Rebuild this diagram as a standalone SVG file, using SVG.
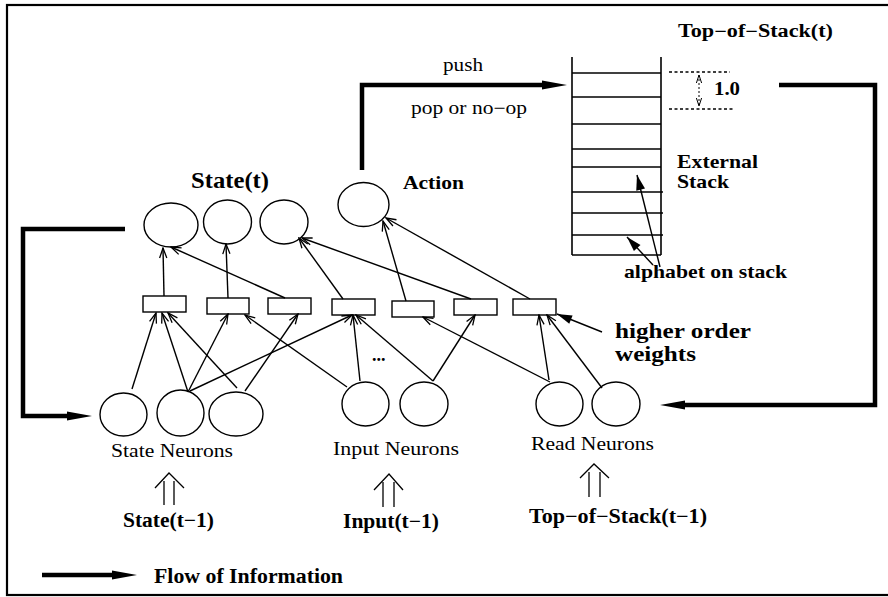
<svg xmlns="http://www.w3.org/2000/svg" width="888" height="597" viewBox="0 0 888 597">
<style>
.t{font-family:"Liberation Serif","Times New Roman",serif;fill:#000}
.b{font-weight:bold}
.n{fill:#fff;stroke:#000;stroke-width:1.4}
.thin{fill:none;stroke:#000;stroke-width:1.4;marker-end:url(#open)}
.fa{fill:none;stroke:#000;stroke-width:1.4;marker-end:url(#fill)}
.thick{fill:none;stroke:#000;stroke-width:4.5;stroke-linejoin:miter;marker-end:url(#big)}
.st{stroke:#000;stroke-width:1.6;fill:none}
.dot{stroke:#000;stroke-width:1.3;stroke-dasharray:3,2.5;fill:none}
</style>
<defs>
<marker id="open" viewBox="-11 -6 12 12" refX="0" refY="0" markerWidth="12" markerHeight="12" markerUnits="userSpaceOnUse" orient="auto">
<path d="M-10,-3.6 L0,0 L-10,3.6" fill="none" stroke="#000" stroke-width="1.3"/>
</marker>
<marker id="fill" viewBox="-16 -6 17 12" refX="0" refY="0" markerWidth="17" markerHeight="12" markerUnits="userSpaceOnUse" orient="auto">
<path d="M-15,-4.5 L0,0 L-15,4.5 Z" fill="#000"/>
</marker>
<marker id="big" viewBox="-1 -6 27 12" refX="0" refY="0" markerWidth="27" markerHeight="12" markerUnits="userSpaceOnUse" orient="auto">
<path d="M0,-4.5 L25,0 L0,4.5 Z" fill="#000"/>
</marker>
<marker id="sm" viewBox="-9 -4 10 8" refX="0" refY="0" markerWidth="10" markerHeight="8" markerUnits="userSpaceOnUse" orient="auto-start-reverse">
<path d="M-8,-2.6 L0,0 L-8,2.6" fill="none" stroke="#000" stroke-width="1"/>
</marker>
</defs>
<rect x="7" y="5" width="890" height="590" fill="#fff" stroke="#000" stroke-width="2.2"/>

<g id="stack">
<line class="st" x1="572" y1="57" x2="572" y2="255"/>
<line class="st" x1="661" y1="57" x2="661" y2="255"/>
<line class="st" x1="572" y1="73" x2="661" y2="73"/>
<line class="st" x1="572" y1="97" x2="661" y2="97"/>
<line class="st" x1="572" y1="124" x2="661" y2="124"/>
<line class="st" x1="572" y1="149" x2="661" y2="149"/>
<line class="st" x1="572" y1="167" x2="661" y2="167"/>
<line class="st" x1="572" y1="192" x2="663" y2="192"/>
<line class="st" x1="572" y1="213" x2="663" y2="213"/>
<line class="st" x1="572" y1="235" x2="663" y2="235"/>
<line class="st" x1="572" y1="255" x2="661" y2="255"/>
<line class="dot" x1="669" y1="72" x2="730" y2="72"/>
<line class="dot" x1="669" y1="109" x2="735" y2="109"/>
<line x1="699" y1="75" x2="699" y2="106" stroke="#000" stroke-width="1" stroke-dasharray="2,2" marker-start="url(#sm)" marker-end="url(#sm)"/>
<text class="t b" x="714" y="95" font-size="19" textLength="26" lengthAdjust="spacingAndGlyphs">1.0</text>
<text class="t b" x="678" y="37" font-size="18" textLength="155" lengthAdjust="spacingAndGlyphs">Top−of−Stack(t)</text>
<text class="t b" x="677" y="168" font-size="19" textLength="81" lengthAdjust="spacingAndGlyphs">External</text>
<text class="t b" x="677" y="188" font-size="19" textLength="52" lengthAdjust="spacingAndGlyphs">Stack</text>
<text class="t b" x="624" y="278" font-size="19" textLength="163" lengthAdjust="spacingAndGlyphs">alphabet on stack</text>
</g>

<g id="state-t">
<ellipse class="n" cx="171" cy="225" rx="27" ry="22"/>
<ellipse class="n" cx="227.5" cy="222" rx="24" ry="22"/>
<ellipse class="n" cx="284" cy="222" rx="24" ry="22"/>
<text class="t b" x="191" y="188" font-size="23" textLength="78" lengthAdjust="spacingAndGlyphs">State(t)</text>
</g>
<g id="action">
<ellipse class="n" cx="363.5" cy="204.5" rx="25.5" ry="22"/>
<text class="t b" x="403" y="189" font-size="19" textLength="61" lengthAdjust="spacingAndGlyphs">Action</text>
</g>

<g id="weights">
<rect class="n" x="143" y="296" width="43" height="16"/>
<rect class="n" x="207" y="298" width="42" height="16"/>
<rect class="n" x="268" y="298" width="43" height="16"/>
<rect class="n" x="332" y="299" width="43" height="16"/>
<rect class="n" x="392" y="301" width="42" height="16"/>
<rect class="n" x="454" y="299" width="43" height="16"/>
<rect class="n" x="513" y="299" width="43" height="16"/>
<text class="t b" x="615" y="338" font-size="20" textLength="136" lengthAdjust="spacingAndGlyphs">higher order</text>
<text class="t b" x="615" y="361" font-size="20" textLength="81" lengthAdjust="spacingAndGlyphs">weights</text>
<text class="t b" x="372" y="361" font-size="18">...</text>
</g>

<g id="state-neurons">
<ellipse class="n" cx="123.5" cy="414.5" rx="23.5" ry="21.5"/>
<ellipse class="n" cx="180.5" cy="413" rx="23.5" ry="23"/>
<ellipse class="n" cx="236" cy="414" rx="27" ry="22"/>
<text class="t" x="111" y="457" font-size="18.5" textLength="122" lengthAdjust="spacingAndGlyphs">State Neurons</text>
</g>
<g id="input-neurons">
<ellipse class="n" cx="365.5" cy="404" rx="23.5" ry="22"/>
<ellipse class="n" cx="424" cy="404" rx="24" ry="22"/>
<text class="t" x="333" y="455" font-size="18.5" textLength="126" lengthAdjust="spacingAndGlyphs">Input Neurons</text>
</g>
<g id="read-neurons">
<ellipse class="n" cx="559.5" cy="404" rx="23.5" ry="22"/>
<ellipse class="n" cx="616" cy="404" rx="24" ry="22"/>
<text class="t" x="531" y="450" font-size="18.5" textLength="123" lengthAdjust="spacingAndGlyphs">Read Neurons</text>
</g>

<g id="inputs">
<g fill="none" stroke="#000" stroke-width="1.3">
<line x1="164" y1="481" x2="164" y2="505"/><line x1="174" y1="481" x2="174" y2="505"/>
<polyline points="155,488 169,473 184,488"/>
<line x1="383" y1="482" x2="383" y2="507"/><line x1="394" y1="482" x2="394" y2="507"/>
<polyline points="374,490 389,474 403,490"/>
<line x1="589" y1="472" x2="589" y2="497"/><line x1="600" y1="472" x2="600" y2="497"/>
<polyline points="580,478 594,464 609,478"/>
</g>
<text class="t b" x="123" y="527" font-size="20" textLength="91" lengthAdjust="spacingAndGlyphs">State(t−1)</text>
<text class="t b" x="343" y="528" font-size="20" textLength="96" lengthAdjust="spacingAndGlyphs">Input(t−1)</text>
<text class="t b" x="529" y="523" font-size="20" textLength="178" lengthAdjust="spacingAndGlyphs">Top−of−Stack(t−1)</text>
</g>

<g id="connectors">
<line class="thin" x1="164" y1="296" x2="163" y2="248"/>
<line class="thin" x1="228" y1="298" x2="226" y2="244"/>
<line class="thin" x1="285" y1="298" x2="171" y2="247"/>
<line class="thin" x1="343" y1="299" x2="299" y2="238"/>
<line class="thin" x1="406" y1="301" x2="383" y2="221"/>
<line class="thin" x1="471" y1="299" x2="302" y2="238"/>
<line class="thin" x1="530" y1="299" x2="386" y2="218"/>

<line class="thin" x1="132" y1="389" x2="156" y2="313"/>
<line class="thin" x1="188" y1="392" x2="162" y2="313"/>
<line class="thin" x1="237" y1="388" x2="168" y2="313"/>
<line class="thin" x1="188" y1="392" x2="228" y2="314"/>
<line class="thin" x1="190" y1="391" x2="352" y2="315"/>
<line class="thin" x1="245" y1="391" x2="298" y2="314"/>
<line class="thin" x1="347" y1="387" x2="245" y2="315"/>
<line class="thin" x1="360" y1="381" x2="353" y2="315"/>
<line class="thin" x1="433" y1="381" x2="356" y2="315"/>
<line class="thin" x1="433" y1="381" x2="475" y2="315"/>
<line class="thin" x1="550" y1="382" x2="423" y2="317"/>
<line class="thin" x1="549" y1="380" x2="539" y2="315"/>
<line class="thin" x1="602" y1="388" x2="547" y2="315"/>

<line class="fa" x1="602" y1="332" x2="557" y2="314"/>
<line class="fa" x1="660" y1="267" x2="637" y2="175"/>
<line class="fa" x1="653" y1="265" x2="627" y2="237"/>

<path class="thick" d="M125,229 H23 V416 H67"/>
<path class="thick" d="M362,170 V85 H542"/>
<path class="thick" d="M779,85 H875 V405 H685"/>
<path class="thick" d="M42,575 H112"/>
<text class="t" x="443" y="71" font-size="18" textLength="40" lengthAdjust="spacingAndGlyphs">push</text>
<text class="t" x="411" y="114" font-size="18" textLength="116" lengthAdjust="spacingAndGlyphs">pop or no−op</text>
</g>

<text class="t b" x="154" y="583" font-size="20" textLength="189" lengthAdjust="spacingAndGlyphs">Flow of Information</text>
</svg>
